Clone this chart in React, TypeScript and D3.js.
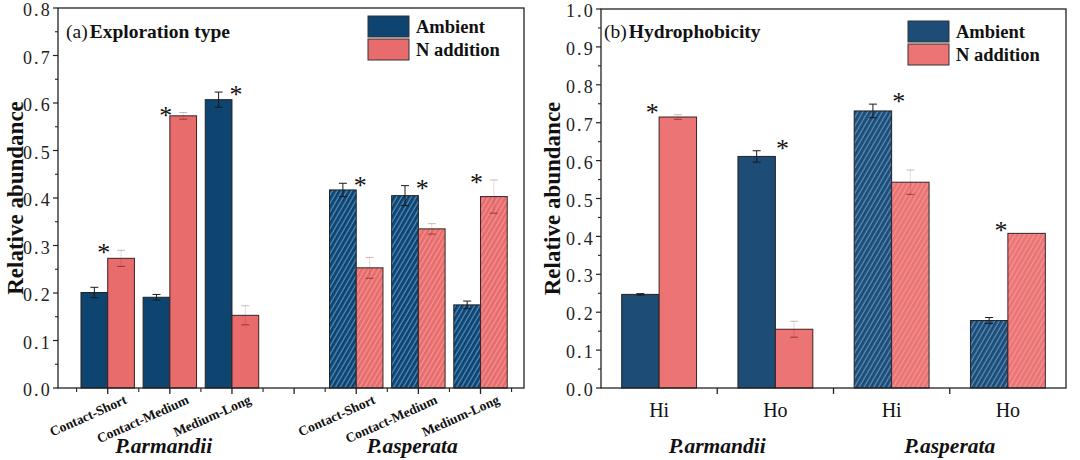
import React from "react";
import * as d3 from "d3";

// ---------- Data ----------
const groups = ["P.armandii", "P.asperata"];

// Panel (a) Exploration type
const explorationTypes = ["Contact-Short", "Contact-Medium", "Medium-Long"];
const armandiiAmbientA = [0.201, 0.191, 0.607];
const armandiiAmbientErrA = [0.011, 0.006, 0.016];
const armandiiNitrogenA = [0.273, 0.573, 0.153];
const armandiiNitrogenErrA = [0.017, 0.007, 0.02];
const asperataAmbientA = [0.417, 0.405, 0.175];
const asperataAmbientErrA = [0.014, 0.021, 0.008];
const asperataNitrogenA = [0.253, 0.335, 0.403];
const asperataNitrogenErrA = [0.022, 0.011, 0.035];
const yTicksA = [0, 0.1, 0.2, 0.3, 0.4, 0.5, 0.6, 0.7, 0.8];

// Panel (b) Hydrophobicity
const hydroTypes = ["Hi", "Ho"];
const armandiiAmbientB = [0.247, 0.611];
const armandiiAmbientErrB = [0.002, 0.015];
const armandiiNitrogenB = [0.715, 0.155];
const armandiiNitrogenErrB = [0.006, 0.021];
const asperataAmbientB = [0.731, 0.178];
const asperataAmbientErrB = [0.018, 0.008];
const asperataNitrogenB = [0.543, 0.408];
const asperataNitrogenErrB = [0.032, 0.0];
const yTicksB = [0, 0.1, 0.2, 0.3, 0.4, 0.5, 0.6, 0.7, 0.8, 0.9, 1.0];

const legendLabels = ["Ambient", "N addition"];

const SERIF = "'Liberation Serif', 'Times New Roman', serif";

type Row = {
  pos: number;
  label: string;
  amb: number;
  ambErr: number;
  nit: number;
  nitErr: number;
  hatched: boolean;
};

function buildRows(
  cats: string[],
  positions: number[],
  a1: number[], e1: number[], n1: number[], f1: number[],
  a2: number[], e2: number[], n2: number[], f2: number[]
): Row[] {
  const rows: Row[] = [];
  cats.forEach((c, i) =>
    rows.push({ pos: positions[i], label: c, amb: a1[i], ambErr: e1[i], nit: n1[i], nitErr: f1[i], hatched: false })
  );
  cats.forEach((c, i) =>
    rows.push({ pos: positions[cats.length + i], label: c, amb: a2[i], ambErr: e2[i], nit: n2[i], nitErr: f2[i], hatched: true })
  );
  return rows;
}

type PanelProps = {
  id: string;
  x0: number; x1: number; yTop: number; yBottom: number;
  xDomain: [number, number];
  yMax: number;
  yTicks: number[];
  rows: Row[];
  barFrac: number;
  majorXTicks: number[];
  minorXTicks: number[];
  groupCenters: number[];
  rotatedLabels: boolean;
  title: string;
  tag: string;
  titleX: number;
  legendX: number;
  legendY: number;
  ambColor: string;
  nitColor: string;
  yTitleX: number;
  starDx: number;
  starDy: number;
};

function Panel(p: PanelProps) {
  const x = d3.scaleLinear().domain(p.xDomain).range([p.x0, p.x1]);
  const y = d3.scaleLinear().domain([0, p.yMax]).range([p.yBottom, p.yTop]);
  const unit = x(1) - x(0);
  const bw = unit * p.barFrac;
  const minorY = d3.range(0.05, p.yMax, 0.1);
  const ambFill = (h: boolean) => (h ? `url(#${p.id}-hatchAmb)` : p.ambColor);
  const nitFill = (h: boolean) => (h ? `url(#${p.id}-hatchNit)` : p.nitColor);

  return (
    <g>
      <defs>
        <pattern id={`${p.id}-hatchAmb`} patternUnits="userSpaceOnUse" width={4.2} height={4.2} patternTransform="rotate(30)">
          <rect width={4.2} height={4.2} fill={p.ambColor} />
          <line x1={1} y1={0} x2={1} y2={4.2} stroke="#6ea6d4" strokeWidth={0.9} />
        </pattern>
        <pattern id={`${p.id}-hatchNit`} patternUnits="userSpaceOnUse" width={4.2} height={4.2} patternTransform="rotate(30)">
          <rect width={4.2} height={4.2} fill={p.nitColor} />
          <line x1={1} y1={0} x2={1} y2={4.2} stroke="#f4a2a2" strokeWidth={0.9} />
        </pattern>
      </defs>

      {/* bars */}
      {p.rows.map((r, i) => {
        const cx = x(r.pos);
        return (
          <g key={i}>
            <rect x={cx - bw} y={y(r.amb)} width={bw} height={y(0) - y(r.amb)} fill={ambFill(r.hatched)} stroke="#222" strokeWidth={1} />
            <rect x={cx} y={y(r.nit)} width={bw} height={y(0) - y(r.nit)} fill={nitFill(r.hatched)} stroke="#3a2222" strokeWidth={1} />
          </g>
        );
      })}

      {/* error bars */}
      {p.rows.map((r, i) => {
        const ca = x(r.pos) - bw / 2;
        const cn = x(r.pos) + bw / 2;
        return (
          <g key={`e${i}`}>
            {r.ambErr > 0 && (
              <g stroke="#1a1a1a" strokeWidth={1}>
                <line x1={ca} x2={ca} y1={y(r.amb - r.ambErr)} y2={y(r.amb + r.ambErr)} />
                <line x1={ca - 4} x2={ca + 4} y1={y(r.amb + r.ambErr)} y2={y(r.amb + r.ambErr)} />
                <line x1={ca - 4} x2={ca + 4} y1={y(r.amb - r.ambErr)} y2={y(r.amb - r.ambErr)} />
              </g>
            )}
            {r.nitErr > 0 && (
              <g stroke="#5a1414" strokeWidth={1}>
                <line x1={cn} x2={cn} y1={y(r.nit - r.nitErr)} y2={y(r.nit + r.nitErr)} strokeOpacity={0.15} />
                <line x1={cn - 4} x2={cn + 4} y1={y(r.nit + r.nitErr)} y2={y(r.nit + r.nitErr)} strokeOpacity={0.3} />
                <line x1={cn - 4} x2={cn + 4} y1={y(r.nit - r.nitErr)} y2={y(r.nit - r.nitErr)} strokeOpacity={0.6} />
              </g>
            )}
          </g>
        );
      })}

      {/* significance stars */}
      {p.rows.map((r, i) => {
        const ambTop = r.amb + r.ambErr;
        const nitTop = r.nit + r.nitErr;
        const top = Math.max(ambTop, nitTop);
        const sx = x(r.pos) + (ambTop >= nitTop ? p.starDx : -p.starDx);
        const sy = y(top) - p.starDy;
        return (
          <text key={`s${i}`} x={sx} y={sy + 13} textAnchor="middle" fontFamily={SERIF} fontSize={26} fill="#111">
            *
          </text>
        );
      })}

      {/* frame */}
      <rect x={p.x0} y={p.yTop} width={p.x1 - p.x0} height={p.yBottom - p.yTop} fill="none" stroke="#222" strokeWidth={1.3} />

      {/* y ticks */}
      {p.yTicks.map((t) => (
        <g key={`yt${t}`}>
          <line x1={p.x0 - 5} x2={p.x0} y1={y(t)} y2={y(t)} stroke="#222" strokeWidth={1.2} />
          <text x={p.x0 - 6} y={y(t)} dy="0.45em" textAnchor="end" fontFamily={SERIF} fontSize={18} letterSpacing={2.2} fill="#222">
            {d3.format(".1f")(t)}
          </text>
        </g>
      ))}
      {minorY.map((t) => (
        <line key={`ym${t}`} x1={p.x0 - 3} x2={p.x0} y1={y(t)} y2={y(t)} stroke="#222" strokeWidth={1.1} />
      ))}

      {/* x ticks */}
      {p.majorXTicks.map((t) => (
        <line key={`xt${t}`} x1={x(t)} x2={x(t)} y1={p.yBottom} y2={p.yBottom + 6} stroke="#222" strokeWidth={1.3} />
      ))}
      {p.minorXTicks.map((t) => (
        <line key={`xm${t}`} x1={x(t)} x2={x(t)} y1={p.yBottom} y2={p.yBottom + 4} stroke="#222" strokeWidth={1.1} />
      ))}

      {/* category labels */}
      {p.rows.map((r, i) =>
        p.rotatedLabels ? (
          <text
            key={`cl${i}`}
            transform={`translate(${x(r.pos) + 20},${p.yBottom + 15}) rotate(-24)`}
            textAnchor="end"
            fontFamily={SERIF}
            fontWeight="bold"
            fontSize={13.5}
            fill="#111"
          >
            {r.label}
          </text>
        ) : (
          <text key={`cl${i}`} x={x(r.pos)} y={p.yBottom + 29} textAnchor="middle" fontFamily={SERIF} fontSize={20} fill="#111">
            {r.label}
          </text>
        )
      )}

      {/* group labels */}
      {groups.map((g, i) => (
        <text key={g} x={x(p.groupCenters[i])} y={453} textAnchor="middle" fontFamily={SERIF} fontWeight="bold" fontStyle="italic" fontSize={21.5} fill="#111">
          {g}
        </text>
      ))}

      {/* y title */}
      <text transform={`translate(${p.yTitleX},${(p.yTop + p.yBottom) / 2}) rotate(-90)`} textAnchor="middle" fontFamily={SERIF} fontWeight="bold" fontSize={23} fill="#111">
        Relative abundance
      </text>

      {/* panel title */}
      <text x={p.titleX} y={38} fontFamily={SERIF} fontSize={19.5} fill="#111">
        <tspan>{p.tag}</tspan>
        <tspan fontWeight="bold" dx={2}>{p.title}</tspan>
      </text>

      {/* legend */}
      {legendLabels.map((l, i) => (
        <g key={l}>
          <rect x={p.legendX} y={p.legendY + i * 23} width={41} height={21} fill={i === 0 ? p.ambColor : p.nitColor} stroke="#333" strokeWidth={1} />
          <text x={p.legendX + 48} y={p.legendY + i * 23 + 10.5} dy="0.35em" fontFamily={SERIF} fontWeight="bold" fontSize={18.5} fill="#111">
            {l}
          </text>
        </g>
      ))}
    </g>
  );
}

export default function App() {
  const rowsA = buildRows(
    explorationTypes,
    [0, 1, 2, 4, 5, 6],
    armandiiAmbientA, armandiiAmbientErrA, armandiiNitrogenA, armandiiNitrogenErrA,
    asperataAmbientA, asperataAmbientErrA, asperataNitrogenA, asperataNitrogenErrA
  );
  const rowsB = buildRows(
    hydroTypes,
    [0.5, 1.5, 2.5, 3.5],
    armandiiAmbientB, armandiiAmbientErrB, armandiiNitrogenB, armandiiNitrogenErrB,
    asperataAmbientB, asperataAmbientErrB, asperataNitrogenB, asperataNitrogenErrB
  );

  return (
    <svg width={1080} height={460} style={{ position: "absolute", left: 0, top: 0, background: "#fff" }}>
      <rect width={1080} height={460} fill="#fff" />
      <Panel
        id="a"
        x0={58} x1={524} yTop={8} yBottom={388}
        xDomain={[-0.8, 6.7]}
        yMax={0.8}
        yTicks={yTicksA}
        rows={rowsA}
        barFrac={0.43}
        majorXTicks={[0, 1, 2, 3, 4, 5, 6]}
        minorXTicks={[-0.5, 0.5, 1.5, 2.5, 3.5, 4.5, 5.5, 6.5]}
        groupCenters={[0.9, 4.9]}
        rotatedLabels={true}
        title="Exploration type"
        tag="(a)"
        titleX={66}
        legendX={368}
        legendY={16}
        ambColor="#0e4470"
        nitColor="#e86c6c"
        yTitleX={23}
        starDx={4}
        starDy={2}
      />
      <Panel
        id="b"
        x0={601} x1={1066} yTop={9} yBottom={388}
        xDomain={[0, 4]}
        yMax={1.0}
        yTicks={yTicksB}
        rows={rowsB}
        barFrac={0.322}
        majorXTicks={[1, 2, 3]}
        minorXTicks={[]}
        groupCenters={[1, 3]}
        rotatedLabels={false}
        title="Hydrophobicity"
        tag="(b)"
        titleX={604}
        legendX={908}
        legendY={21}
        ambColor="#1d4c77"
        nitColor="#ec7474"
        yTitleX={560}
        starDx={7}
        starDy={7}
      />
    </svg>
  );
}
